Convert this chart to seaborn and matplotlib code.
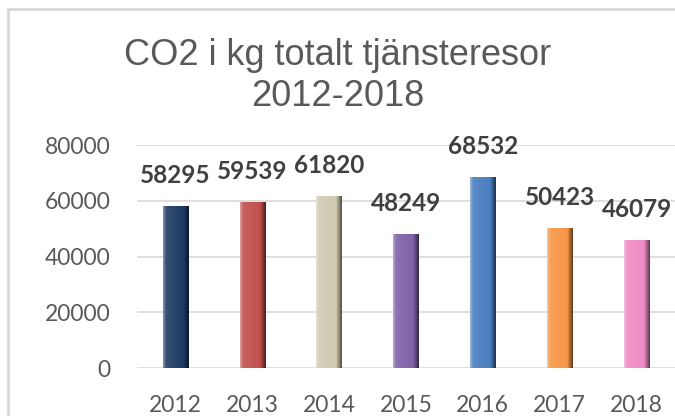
# CO2 i kg totalt tjänsteresor 2012-2018 - stapeldiagram
import numpy as np
import pandas as pd
import matplotlib
matplotlib.use("Agg")
import matplotlib.pyplot as plt
import matplotlib.colors as mcolors
from matplotlib.patches import Rectangle
import seaborn as sns

# Data
years = ["2012", "2013", "2014", "2015", "2016", "2017", "2018"]
co2_kg = [58295, 59539, 61820, 48249, 68532, 50423, 46079]
bar_colors = ["#1F3B63", "#C0504D", "#CFCAB0", "#7F62A8", "#4A7EC0", "#F79646", "#F08CC4"]
y_ticks = [0, 20000, 40000, 60000, 80000]

df = pd.DataFrame({"year": years, "co2": co2_kg})

sns.set_style("white")
plt.rcParams["font.family"] = ["Lato", "DejaVu Sans"]

fig = plt.figure(figsize=(6.75, 4.16), dpi=100)
ax = fig.add_axes([0.203, 0.115, 0.797, 0.536])

sns.barplot(data=df, x="year", y="co2", hue="year", palette=bar_colors,
            legend=False, width=0.33, saturation=1, ax=ax)

# Bevel-liknande effekt: horisontell gradient klippt till varje stapel
t = np.linspace(0, 1, 60)
shade = np.where(t < 0.12, 0.35 * (1 - t / 0.12) + 0.1,
                 np.where(t > 0.78, -0.6 * (t - 0.78) / 0.22, 0.1 * (1 - (t - 0.12) / 0.66)))
for patch, col in zip(ax.patches, bar_colors):
    base = np.array(mcolors.to_rgb(col))
    row = [base + (1 - base) * s if s >= 0 else base * (1 + s) for s in shade]
    img = np.array([row])
    x0, w, h = patch.get_x(), patch.get_width(), patch.get_height()
    im = ax.imshow(img, extent=[x0, x0 + w, 0, h], aspect="auto", zorder=3,
                   interpolation="bilinear")
    im.set_clip_path(patch)
    patch.set_edgecolor("none")

ax.set_xlim(-0.5, 6.5)
ax.set_ylim(0, 80000)
ax.set_yticks(y_ticks)
ax.set_yticklabels([str(v) for v in y_ticks])
ax.set_xlabel("")
ax.set_ylabel("")

# Rutnät
ax.yaxis.grid(True, color="#D9D9D9", linewidth=1.2)
ax.set_axisbelow(True)
ax.tick_params(axis="y", length=0, pad=19, labelsize=16.5, labelcolor="#595959")
ax.tick_params(axis="x", length=0, pad=19, labelsize=16.5, labelcolor="#595959")
sns.despine(ax=ax, left=True, bottom=True)

# Datavärden
for i, v in enumerate(co2_kg):
    ax.annotate(str(v), (i, v), xytext=(0, 22), textcoords="offset points",
                ha="center", va="center", fontsize=17.5, fontweight="bold",
                color="#404040", annotation_clip=False)

# Titel
fig.text(0.5, 1 - 76 / 416, "CO2 i kg totalt tjänsteresor\n2012-2018",
         ha="center", va="center", fontsize=26, color="#595959",
         family=["Liberation Sans", "DejaVu Sans"], linespacing=1.2)

# Ram runt diagrammet
fig.patches.append(Rectangle((8 / 675, -0.1), 1.2, 1 - 9 / 416 + 0.1,
                             transform=fig.transFigure, fill=False,
                             edgecolor="#D9D9D9", linewidth=2))

fig.savefig("out.png", dpi=100)
